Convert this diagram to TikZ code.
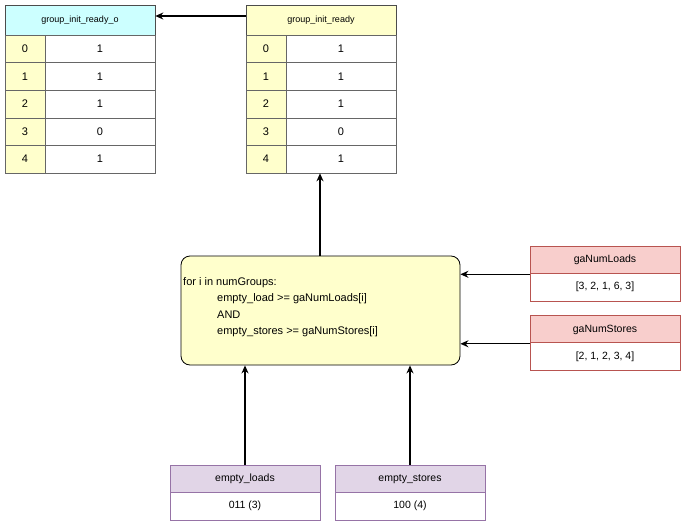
\documentclass[tikz,border=0pt]{standalone}
\usepackage{fontspec}
\setmainfont{Liberation Sans}
\usetikzlibrary{arrows.meta}
\definecolor{cy}{HTML}{CCFFFF}
\definecolor{yl}{HTML}{FFFFCC}
\definecolor{rdf}{HTML}{F8CECC}
\definecolor{rdd}{HTML}{B85450}
\definecolor{pf}{HTML}{E1D5E7}
\definecolor{pd}{HTML}{9673A6}
\begin{document}
\begin{tikzpicture}[x=1pt,y=-1pt,
 cell/.style={draw=black!60,line width=0.6pt,minimum height=27.6pt,inner sep=0pt,font=\fontsize{11}{13}\selectfont},
 idx/.style={cell,fill=yl,minimum width=40pt},
 val/.style={cell,fill=white,minimum width=110pt},
 hd/.style={draw=black!70,line width=0.6pt,minimum width=150pt,minimum height=30pt,inner sep=0pt,font=\fontsize{9}{11}\selectfont},
 vhd/.style={draw,line width=0.6pt,minimum width=150pt,minimum height=28pt,inner sep=0pt,font=\fontsize{10.5}{12}\selectfont},
 vvl/.style={vhd,fill=white},
 arr/.style={-{Stealth[length=8pt,width=7pt]},line width=1.3pt}]
\path[use as bounding box] (0,0) rectangle (686,530);
\node[hd,fill=cy] (lh) at (80,20) {group\_init\_ready\_o};
\node[hd,fill=yl] (rh) at (321,20) {group\_init\_ready};
\foreach \i/\v in {0/1,1/1,2/1,3/0,4/1}{
 \node[idx] (li\i) at (25,48.8+27.6*\i) {\i};
 \node[val] (lv\i) at (100,48.8+27.6*\i) {\v};
 \node[idx] (ri\i) at (266,48.8+27.6*\i) {\i};
 \node[val] (rv\i) at (341,48.8+27.6*\i) {\v};
}
\draw[arr] (rh.west|-0,16) -- (lh.east|-0,16);
\node[draw=black,fill=yl,rounded corners=9pt,line width=0.8pt,minimum width=279pt,minimum height=109pt,inner sep=0pt] (box) at (320.5,310.5) {};
\node[anchor=north west,align=left,font=\fontsize{11}{16.5}\selectfont,inner sep=0pt] (txt) at (183,277)
{for i in numGroups:\\\hspace*{34pt}empty\_load >= gaNumLoads[i]\\\hspace*{34pt}AND\\\hspace*{34pt}empty\_stores >= gaNumStores[i]};
\draw[arr] (box.north-|320,0) -- (rv4.south-|320,0);
\node[vhd,draw=rdd,fill=rdf] (gl) at (605,260) {gaNumLoads};
\node[vvl,draw=rdd] (glv) at (605,287) {[3, 2, 1, 6, 3]};
\node[vhd,draw=rdd,fill=rdf] (gs) at (605,329.5) {gaNumStores};
\node[vvl,draw=rdd] (gsv) at (605,356.5) {[2, 1, 2, 3, 4]};
\draw[arr] (gl.south west) -- (box.east|-gl.south);
\draw[arr] (gs.south west) -- (box.east|-gs.south);
\node[vhd,draw=pd,fill=pf] (el) at (245,479) {empty\_loads};
\node[vvl,draw=pd] (elv) at (245,506) {011 (3)};
\node[vhd,draw=pd,fill=pf] (es) at (410,479) {empty\_stores};
\node[vvl,draw=pd] (esv) at (410,506) {100 (4)};
\draw[arr] (el.north) -- (box.south-|el.north);
\draw[arr] (es.north) -- (box.south-|es.north);
\end{tikzpicture}
\end{document}
